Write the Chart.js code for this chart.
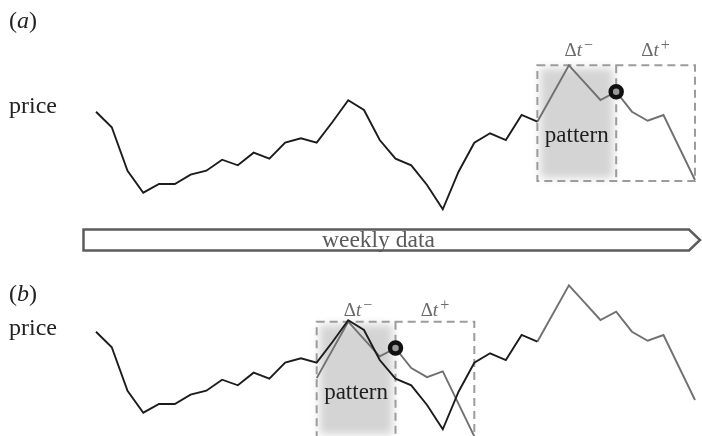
<!DOCTYPE html>
<html>
<head>
<meta charset="utf-8">
<script src="https://cdn.jsdelivr.net/npm/chart.js@4.4.1/dist/chart.umd.min.js"></script>
<style>
    body { margin: 0; background: #fff; }
    #wrap { position: relative; width: 702px; height: 436px; }
    #chart { position: absolute; left: 0; top: 0; }
    .lbl { position: absolute; font-family: 'Liberation Serif', 'DejaVu Serif', serif; color: #222; font-size: 24px; line-height: 1; white-space: nowrap; }
</style>
</head>
<body>
<div id="wrap">
    <canvas id="chart" width="702" height="436"></canvas>
    <div class="lbl" style="left:9px;top:8px">(<i>a</i>)</div>
    <div class="lbl" style="left:9px;top:93px">price</div>
    <div class="lbl" style="left:9px;top:281px">(<i>b</i>)</div>
    <div class="lbl" style="left:9px;top:315px">price</div>
    <div class="lbl" style="left:322px;top:228px;color:#5a5a5a;font-size:23.5px">weekly data</div>
</div>
<script>
// weekly prices (arbitrary units)
const weeks = [0, 1, 2, 3, 4, 5, 6, 7, 8, 9, 10, 11, 12, 13, 14, 15, 16, 17, 18, 19,
    20, 21, 22, 23, 24, 25, 26, 27, 28, 29, 30, 31, 32, 33, 34, 35, 36, 37, 38];
const prices = [103.3, 87.7, 44.3, 22.3, 31, 31, 40.3, 44.3, 55.3, 49.7,
    62.3, 56.3, 72.3, 76.7, 72.3, 93, 114.7, 105, 75, 56.3,
    49.7, 30, 5.7, 43.3, 72.3, 81.7, 75, 100, 93.3, 121.5,
    149.7, 132.3, 115, 123.3, 103.3, 94.3, 100, 67.5, 35];
// pattern window (dt-), current week, end of horizon (dt+)
const patternStart = 28;
const currentWeek = 33;
const horizonEnd = 38;
// where the pattern is matched in the history
const matchStart = 14;
const boxTop = 149.7;
const boxBottom = 34;

const BLACK = '#1c1c1c';
const GRAY = '#707070';
const shift = patternStart - matchStart;

function pts(from, to, dx) {
    const out = [];
    for (let i = from; i <= to; i++)
        out.push({ x: weeks[i] - (dx || 0), y: prices[i] });
    return out;
}

function lineDs(data, color, yAxis) {
    return {
        type: 'line',
        data,
        yAxisID: yAxis,
        borderColor: color,
        borderWidth: 1.9,
        pointRadius: 0,
        tension: 0,
        clip: false
    };
}

const ring = {
    pointRadius: 5.5,
    pointBorderWidth: 4.5,
    pointBorderColor: '#111',
    pointBackgroundColor: '#9a9a9a',
    showLine: false,
    clip: false
};

function drawDelta(ctx, x, y, sign) {
    ctx.save();
    ctx.fillStyle = '#6a6a6a';
    ctx.textBaseline = 'alphabetic';
    ctx.font = '19px "Liberation Serif"';
    const dW = ctx.measureText('\u0394').width;
    ctx.font = 'italic 19px "Liberation Serif"';
    const tW = ctx.measureText('t').width;
    ctx.font = '16px "Liberation Serif"';
    const sW = ctx.measureText(sign).width;
    let left = x - (dW + tW + sW + 2) / 2;
    ctx.font = '19px "Liberation Serif"';
    ctx.fillText('\u0394', left, y);
    ctx.font = 'italic 19px "Liberation Serif"';
    ctx.fillText('t', left + dW, y);
    ctx.font = '16px "Liberation Serif"';
    ctx.fillText(sign, left + dW + tW + 2, y - 6);
    ctx.restore();
}

function drawBoxes(chart, yId, x0, labelY) {
    const { ctx, scales } = chart;
    const xs = scales.x, ys = scales[yId];
    const left = xs.getPixelForValue(x0);
    const mid = xs.getPixelForValue(x0 + currentWeek - patternStart);
    const right = xs.getPixelForValue(x0 + horizonEnd - patternStart);
    const top = ys.getPixelForValue(boxTop);
    const bottom = ys.getPixelForValue(boxBottom);
    ctx.save();
    // soft grey shading behind the pattern
    ctx.filter = 'blur(4px)';
    ctx.fillStyle = '#d4d4d4';
    ctx.fillRect(left + 3, top + 3, mid - left - 6, bottom - top - 6);
    ctx.filter = 'none';
    ctx.strokeStyle = '#9c9c9c';
    ctx.lineWidth = 2;
    ctx.setLineDash([8, 5]);
    ctx.strokeRect(left, top, right - left, bottom - top);
    ctx.beginPath();
    ctx.moveTo(mid, top);
    ctx.lineTo(mid, bottom);
    ctx.stroke();
    ctx.restore();
    drawDelta(ctx, (left + mid) / 2 + 2, labelY, '\u2212');
    drawDelta(ctx, (mid + right) / 2, labelY, '+');
    ctx.save();
    ctx.fillStyle = '#1e1e1e';
    ctx.font = '23px "Liberation Serif"';
    ctx.textAlign = 'center';
    ctx.fillText('pattern', (left + mid) / 2, top + 77);
    ctx.restore();
}

const decor = {
    id: 'decor',
    beforeDatasetsDraw(chart) {
        const { ctx } = chart;
        drawBoxes(chart, 'ya', patternStart, 56);
        drawBoxes(chart, 'yc', matchStart, 316);
        // "weekly data" arrow
        ctx.save();
        ctx.strokeStyle = '#5c5c5c';
        ctx.lineWidth = 2.5;
        ctx.beginPath();
        ctx.moveTo(83.5, 229.5);
        ctx.lineTo(689, 229.5);
        ctx.lineTo(700, 240);
        ctx.lineTo(689, 250.5);
        ctx.lineTo(83.5, 250.5);
        ctx.closePath();
        ctx.stroke();
        ctx.restore();
    }
};

new Chart(document.getElementById('chart'), {
    data: {
        datasets: [
            Object.assign({ type: 'scatter', data: [{ x: weeks[currentWeek], y: prices[currentWeek] }], yAxisID: 'ya' }, ring),
            Object.assign({ type: 'scatter', data: [{ x: weeks[currentWeek] - shift, y: prices[currentWeek] }], yAxisID: 'yc' }, ring),
            lineDs(pts(0, patternStart), BLACK, 'ya'),
            lineDs(pts(patternStart, horizonEnd), GRAY, 'ya'),
            lineDs(pts(0, patternStart), BLACK, 'yb'),
            lineDs(pts(patternStart, horizonEnd), GRAY, 'yb'),
            lineDs(pts(patternStart, horizonEnd, shift), GRAY, 'yc')
        ]
    },
    options: {
        responsive: false,
        animation: false,
        events: [],
        layout: { autoPadding: false, padding: { left: 96, right: 7, top: 0, bottom: 0 } },
        plugins: { legend: { display: false }, tooltip: { enabled: false } },
        scales: {
            x: { type: 'linear', min: 0, max: 38, display: false },
            ya: { min: -221, max: 215, display: false },
            yb: { min: -1, max: 435, display: false },
            yc: { min: 35.4, max: 471.4, display: false }
        }
    },
    plugins: [decor]
});
</script>
</body>
</html>
